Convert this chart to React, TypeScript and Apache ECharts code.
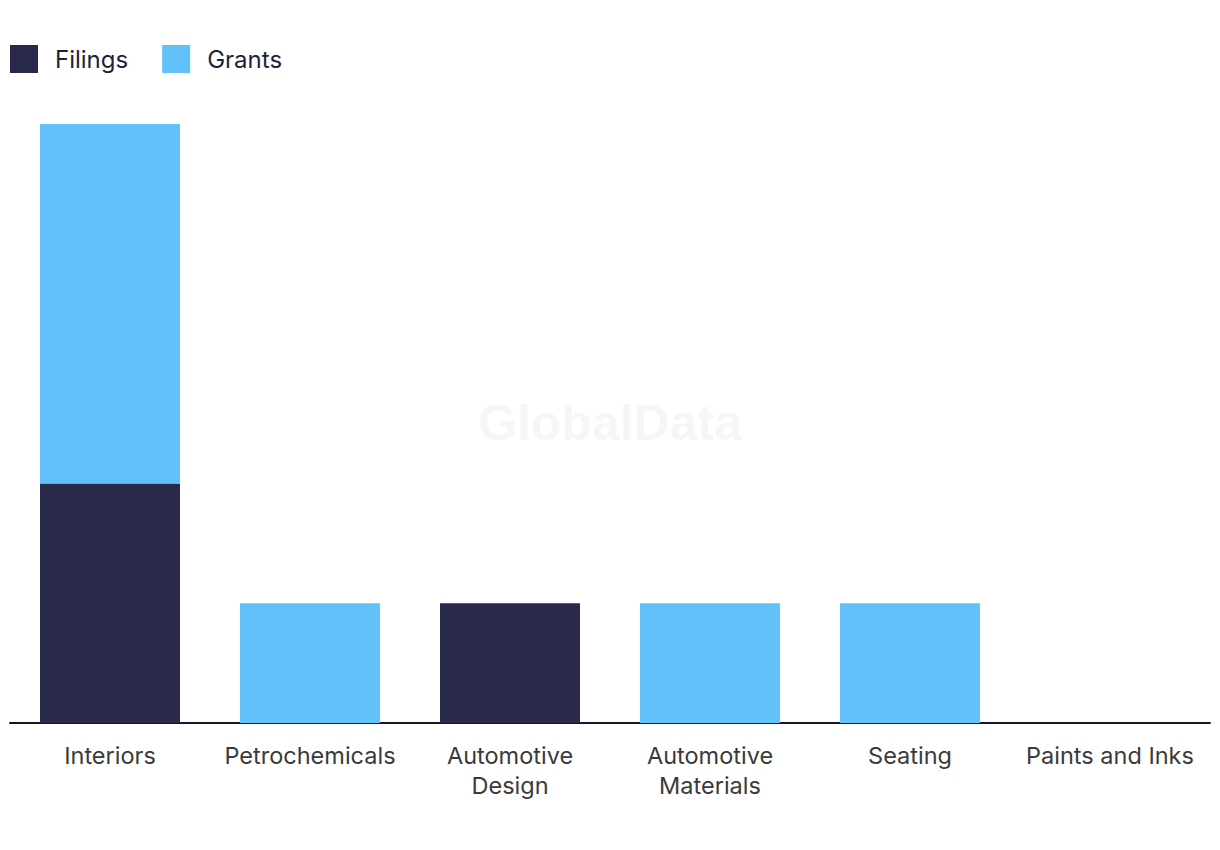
import React, { useEffect, useRef } from "react";
import * as echarts from "echarts";

const categories = ["Interiors", "Petrochemicals", "Automotive\nDesign", "Automotive\nMaterials", "Seating", "Paints and Inks"];
const filings = [2, 0, 1, 0, 0, 0];
const grants = [3, 1, 0, 1, 1, 0];

const FONT = "Inter, 'Noto Sans', sans-serif";

export default function App() {
  const ref = useRef<HTMLDivElement>(null);
  useEffect(() => {
    if (!ref.current) return;
    const chart = echarts.init(ref.current, undefined, { renderer: "svg" });
    chart.setOption({
      animation: false,
      backgroundColor: "#ffffff",
      graphic: [
        {
          type: "text",
          left: "center",
          top: 398,
          z: 0,
          style: {
            text: "GlobalData",
            fontSize: 50,
            fontWeight: "bold",
            fontFamily: "Arial, 'Liberation Sans', sans-serif",
            fill: "#f6f6f6",
          },
        },
      ],
      legend: {
        left: 10,
        top: 45,
        padding: 0,
        itemWidth: 28,
        itemHeight: 28,
        itemGap: 34,
        icon: "rect",
        textStyle: { fontSize: 24, color: "#1f1f3a", fontFamily: FONT, padding: [0, 0, 0, 12] },
        data: ["Filings", "Grants"],
      },
      grid: { left: 10, right: 10, top: 124, bottom: 127, containLabel: false },
      xAxis: {
        type: "category",
        data: categories,
        axisLine: { show: true, lineStyle: { color: "#14142a", width: 2 } },
        axisTick: { show: false },
        axisLabel: {
          fontSize: 23.5,
          lineHeight: 30,
          color: "#3a3a3a",
          fontFamily: FONT,
          margin: 17,
          interval: 0,
        },
      },
      yAxis: {
        type: "value",
        min: 0,
        max: 5,
        show: false,
        splitLine: { show: false },
      },
      series: [
        {
          name: "Filings",
          type: "bar",
          stack: "total",
          barWidth: "70%",
          data: filings,
          itemStyle: { color: "#29294c" },
        },
        {
          name: "Grants",
          type: "bar",
          stack: "total",
          barWidth: "70%",
          data: grants,
          itemStyle: { color: "#62c1f9" },
        },
      ],
    });
    return () => chart.dispose();
  }, []);
  return <div ref={ref} style={{ position: "fixed", left: 0, top: 0, width: 1220, height: 850 }} />;
}
